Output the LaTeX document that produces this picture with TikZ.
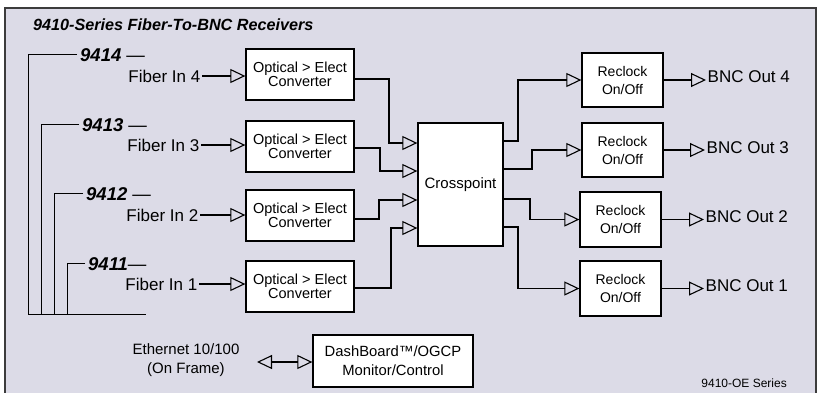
\documentclass[tikz,border=0pt]{standalone}
\usepackage{fontspec}
\setmainfont{Liberation Sans}
\usetikzlibrary{arrows.meta}
\definecolor{panel}{RGB}{220,219,231}
\definecolor{frameline}{RGB}{60,60,60}
\tikzset{
  box/.style={draw=black, fill=white, line width=1.3pt, inner sep=0pt, align=center},
  convbox/.style={box, minimum width=108pt, minimum height=51pt, font=\fontsize{14.5}{14}\selectfont},
  rcbox/.style={box, minimum width=81pt, minimum height=54pt, font=\fontsize{14}{18}\selectfont},
  lbl/.style={inner sep=1.5pt, font=\fontsize{17}{19}\selectfont},
  tag/.style={inner xsep=3pt, inner ysep=0pt, font=\fontsize{18.5}{19}\selectfont},
  wire/.style={line width=1.1pt, draw=black},
  tri/.tip={Triangle[open, length=15pt, width=14pt, line width=1.1pt]},
  arr/.style={wire, -tri},
  dbl/.style={wire, tri-tri}
}
\begin{document}
\begin{tikzpicture}[x=1pt,y=-1pt]
\useasboundingbox (0,0) rectangle (819,392);
\clip (0,0) rectangle (819,392);
\fill[white] (0,0) rectangle (819,392);
\draw[frameline, line width=2pt, fill=panel] (5,7.5) rectangle (816,420);

% title
\node[anchor=base west, inner sep=0pt, font=\fontsize{16.2}{18}\selectfont\bfseries\itshape] (title) at (33,30) {9410-Series Fiber-To-BNC Receivers};

% model tags
\node[tag, anchor=base west] (t4) at (77,61) {{\bfseries\itshape 9414} —};
\node[tag, anchor=base west] (t3) at (79,131) {{\bfseries\itshape 9413} —};
\node[tag, anchor=base west] (t2) at (83,200) {{\bfseries\itshape 9412} —};
\node[tag, anchor=base west] (t1) at (85,270) {{\bfseries\itshape 9411}—};
\coordinate (busL) at (28,314);
\coordinate (busR) at (146,314);
\draw[wire, line width=0.9pt] (t4.west) -| (busL) -- (busR);
\draw[wire, line width=0.9pt] (t3.west) -| (41,314);
\draw[wire, line width=0.9pt] (t2.west) -| (54,314);
\draw[wire, line width=0.9pt] (t1.west) -| (67,314);

% fiber inputs
\node[lbl, anchor=east] (f4) at (202,76) {Fiber In 4};
\node[lbl, anchor=east] (f3) at (201,145) {Fiber In 3};
\node[lbl, anchor=east] (f2) at (200,215) {Fiber In 2};
\node[lbl, anchor=east] (f1) at (199,284) {Fiber In 1};

% converters
\node[convbox] (c1) at (300,74.5) {Optical > Elect\\Converter};
\node[convbox] (c2) at (300,146.5) {Optical > Elect\\Converter};
\node[convbox] (c3) at (300,215.5) {Optical > Elect\\Converter};
\node[convbox] (c4) at (300,286.5) {Optical > Elect\\Converter};

\draw[arr] (f4.east) -- (f4.east -| c1.west);
\draw[arr] (f3.east) -- (f3.east -| c2.west);
\draw[arr] (f2.east) -- (f2.east -| c3.west);
\draw[arr] (f1.east) -- (f1.east -| c4.west);

% crosspoint
\node[box, minimum width=85pt, minimum height=123pt, font=\fontsize{15}{18}\selectfont] (xp) at (460.5,184.5) {Crosspoint};

\draw[arr] ([yshift=-4.5pt]c1.east) -| (389,143) -- (xp.west |- 0,143);
\draw[arr] ([yshift=-1.5pt]c2.east) -| (380,171) -- (xp.west |- 0,171);
\draw[arr] ([yshift=-3.5pt]c3.east) -| (379,200) -- (xp.west |- 0,200);
\draw[arr] ([yshift=-1.5pt]c4.east) -| (391,228) -- (xp.west |- 0,228);

% reclock
\node[rcbox] (r4) at (622.5,80) {Reclock\\On/Off};
\node[rcbox] (r3) at (622.5,150) {Reclock\\On/Off};
\node[rcbox, minimum height=55pt] (r2) at (620.5,219.5) {Reclock\\On/Off};
\node[rcbox, minimum height=55pt] (r1) at (620.5,288.5) {Reclock\\On/Off};

\draw[arr] (xp.east |- 0,141) -- (518,141) |- (r4.west);
\draw[arr] (xp.east |- 0,169) -- (532,169) |- (r3.west);
\draw[arr] (xp.east |- 0,199) -- (530,199) |- (r2.west);
\draw[arr] (xp.east |- 0,227) -- (518,227) |- (r1.west);

% BNC outputs
\node[lbl, anchor=west] (b4) at (706,77) {BNC Out 4};
\node[lbl, anchor=west] (b3) at (705,148) {BNC Out 3};
\node[lbl, anchor=west] (b2) at (704,217) {BNC Out 2};
\node[lbl, anchor=west] (b1) at (704,286) {BNC Out 1};

\draw[arr] (r4.east) -- (r4.east -| b4.west);
\draw[arr] (r3.east) -- (r3.east -| b3.west);
\draw[arr] (r2.east) -- (r2.east -| b2.west);
\draw[arr] (r1.east) -- (r1.east -| b1.west);

% ethernet / dashboard
\node[inner sep=0pt, align=center, font=\fontsize{15}{19}\selectfont] (eth) at (186,360) {Ethernet 10/100\\(On Frame)};
\node[box, minimum width=160pt, minimum height=52pt, font=\fontsize{14.8}{19}\selectfont] (dash) at (393,361) {DashBoard™/OGCP\\Monitor/Control};
\coordinate (ethend) at (257,362);
\draw[dbl] (ethend) -- (ethend -| dash.west);

% series label
\node[anchor=base east, inner sep=0pt, font=\fontsize{12}{14}\selectfont] (ser) at (787,387) {9410-OE Series};
\end{tikzpicture}
\end{document}
